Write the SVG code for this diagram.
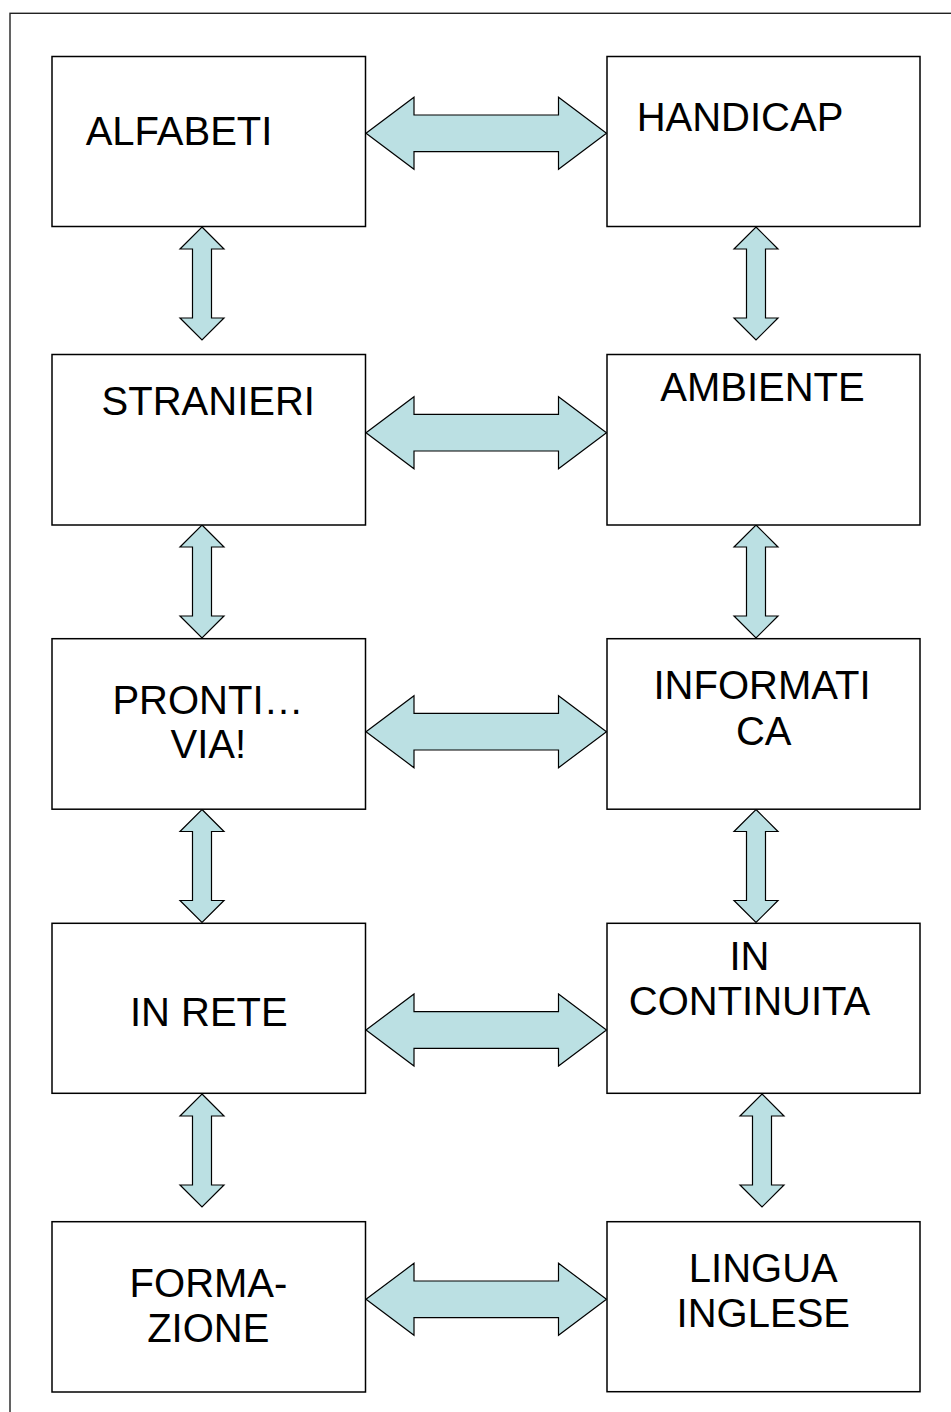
<svg xmlns="http://www.w3.org/2000/svg" xmlns:xlink="http://www.w3.org/1999/xlink" width="951" height="1412" viewBox="0 0 951 1412">
<style>
.frame{fill:none;stroke:#222;stroke-width:1.4}
.box{fill:#fff;stroke:#000;stroke-width:1.5}
.arr{fill:#BBE0E3;stroke:#000;stroke-width:1.2;stroke-linejoin:miter}
.lbl{font-family:"Liberation Sans",Arial,sans-serif;font-size:40px;fill:#000;text-anchor:middle}
</style>
<defs>
<path id="harrow" d="M0,0 L48,-36 L48,-18.3 L192.5,-18.3 L192.5,-36 L240.5,0 L192.5,36 L192.5,18.3 L48,18.3 L48,36 Z"/>
<path id="varrow" d="M0,0 L22,22 L9.5,22 L9.5,91 L22,91 L0,113 L-22,91 L-9.5,91 L-9.5,22 L-22,22 Z"/>
</defs>
<rect x="0" y="0" width="951" height="1412" fill="#fff"/>
<rect class="frame" x="10" y="13.3" width="1000" height="1500"/>

<g id="connectors">
<use class="arr" href="#harrow" xlink:href="#harrow" x="366" y="133.3"/>
<use class="arr" href="#harrow" xlink:href="#harrow" x="366" y="432.7"/>
<use class="arr" href="#harrow" xlink:href="#harrow" x="366" y="731.7"/>
<use class="arr" href="#harrow" xlink:href="#harrow" x="366" y="1030"/>
<use class="arr" href="#harrow" xlink:href="#harrow" x="366" y="1299.3"/>
<use class="arr" href="#varrow" xlink:href="#varrow" x="202" y="227"/>
<use class="arr" href="#varrow" xlink:href="#varrow" x="202" y="525"/>
<use class="arr" href="#varrow" xlink:href="#varrow" x="202" y="809.5"/>
<use class="arr" href="#varrow" xlink:href="#varrow" x="202" y="1094"/>
<use class="arr" href="#varrow" xlink:href="#varrow" x="756" y="227"/>
<use class="arr" href="#varrow" xlink:href="#varrow" x="756" y="525"/>
<use class="arr" href="#varrow" xlink:href="#varrow" x="756" y="809.5"/>
<use class="arr" href="#varrow" xlink:href="#varrow" x="762" y="1094"/>
</g>

<g id="alfabeti"><rect class="box" x="52" y="56.5" width="313.5" height="170"/><text class="lbl" x="179" y="145">ALFABETI</text></g>
<g id="handicap"><rect class="box" x="607" y="56.5" width="313" height="170"/><text class="lbl" x="740" y="130.5">HANDICAP</text></g>
<g id="stranieri"><rect class="box" x="52" y="354.5" width="313.5" height="170.5"/><text class="lbl" x="208.3" y="415">STRANIERI</text></g>
<g id="ambiente"><rect class="box" x="607" y="354.5" width="313" height="170.5"/><text class="lbl" x="762.5" y="400.7">AMBIENTE</text></g>
<g id="pronti"><rect class="box" x="52" y="638.7" width="313.5" height="170.5"/><text class="lbl" x="208" y="714">PRONTI…</text><text class="lbl" x="208.3" y="758.3">VIA!</text></g>
<g id="informatica"><rect class="box" x="607" y="638.7" width="313" height="170.5"/><text class="lbl" x="762" y="699">INFORMATI</text><text class="lbl" x="763.7" y="745">CA</text></g>
<g id="inrete"><rect class="box" x="52" y="923.3" width="313.5" height="170"/><text class="lbl" x="208.8" y="1026">IN RETE</text></g>
<g id="incontinuita"><rect class="box" x="607" y="923.3" width="313" height="170"/><text class="lbl" x="749.5" y="970">IN</text><text class="lbl" x="749.5" y="1015">CONTINUITA</text></g>
<g id="formazione"><rect class="box" x="52" y="1221.7" width="313.5" height="170.3"/><text class="lbl" x="208.5" y="1296.7">FORMA-</text><text class="lbl" x="208.3" y="1341.7">ZIONE</text></g>
<g id="linguainglese"><rect class="box" x="607" y="1221.7" width="313" height="170"/><text class="lbl" x="763.3" y="1281.5">LINGUA</text><text class="lbl" x="763.3" y="1326.7">INGLESE</text></g>
</svg>
